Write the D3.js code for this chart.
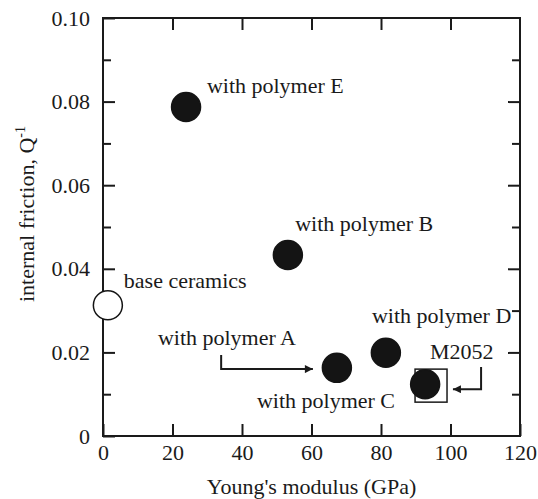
<!DOCTYPE html>
<html>
<head>
<meta charset="utf-8">
<script src="https://cdn.jsdelivr.net/npm/d3@7"></script>
<style>
	body { margin: 0; background: #fff; }
</style>
</head>
<body>
<svg id="chart" width="538" height="499"></svg>
<script>
// points: Young's modulus (GPa), internal friction Q^-1
const names = ["base ceramics", "with polymer E", "with polymer B", "with polymer A", "with polymer D", "with polymer C"];
const modulus = [1.4, 23.9, 53.2, 67.3, 81.4, 92.7];
const friction = [0.0313, 0.0787, 0.0433, 0.0163, 0.0199, 0.0124];
const filled = [false, true, true, true, true, true];

// where each label sits, in data units
const labelX = [6.0, 29.9, 55.3, 15.8, 77.4, 44.3];
const labelY = [0.0354, 0.0821, 0.0490, 0.0218, 0.0270, 0.0067];

const xTicks = [0, 20, 40, 60, 80, 100, 120];
const yTicks = [0, 0.02, 0.04, 0.06, 0.08, 0.10];
const yMinorTicks = [0.01, 0.03, 0.05, 0.07, 0.09];

// annotation: arrow to polymer A, the M2052 box and its arrow
const arrowA = [[34, 0.0194], [34, 0.0160], [60.4, 0.0160]];
const arrowM = [[108.8, 0.0165], [108.8, 0.0112], [100.7, 0.0112]];
const boxM = [89.8, 99.0, 0.0081, 0.0160];
const mLabel = ["M2052", 94.1, 0.0184];

const FONT = "'Liberation Serif', 'Times New Roman', Times, 'DejaVu Serif', serif";

let svg = d3.select("#chart"),
	LEFT = 103,
	RIGHT = 520,
	TOP = 18,
	BOTTOM = 436,
	xScale = d3.scaleLinear().domain([0, 120]).range([LEFT, RIGHT]),
	yScale = d3.scaleLinear().domain([0, 0.1]).range([BOTTOM, TOP]);

svg.append("defs").append("marker")
	.attr("id", "head")
	.attr("viewBox", "0 0 10 10")
	.attr("refX", 10)
	.attr("refY", 5)
	.attr("markerWidth", 11)
	.attr("markerHeight", 8)
	.attr("markerUnits", "userSpaceOnUse")
	.attr("orient", "auto")
	.append("path")
	.attr("d", "M0,0L10,5L0,10Z")
	.attr("fill", "#1a1a1a");

function styleAxis(g, labels) {
	g.attr("font-family", FONT).attr("font-size", 22);
	g.select(".domain").remove();
	g.selectAll(".tick line").attr("stroke", "#1a1a1a").attr("stroke-width", 2);
	if (!labels) g.selectAll(".tick text").remove();
	else g.selectAll(".tick text").attr("fill", "#1a1a1a");
}

function label(x, y, str) {
	return svg.append("text")
		.attr("x", x)
		.attr("y", y)
		.attr("font-family", FONT)
		.attr("font-size", 22)
		.attr("fill", "#1a1a1a")
		.text(str);
}

// bottom / top
svg.append("g")
	.attr("transform", "translate(0," + BOTTOM + ")")
	.call(d3.axisBottom(xScale).tickValues(xTicks).tickSizeInner(-12).tickSizeOuter(0).tickPadding(8))
	.call(styleAxis, true);

svg.append("g")
	.attr("transform", "translate(0," + TOP + ")")
	.call(d3.axisTop(xScale).tickValues(xTicks.slice(1, -1)).tickSizeInner(-12).tickSizeOuter(0))
	.call(styleAxis, false);

// left / right
svg.append("g")
	.attr("transform", "translate(" + LEFT + ",0)")
	.call(d3.axisLeft(yScale).tickValues(yTicks).tickSizeInner(-12).tickSizeOuter(0).tickPadding(13)
		.tickFormat(function (d) { return d === 0 ? "0" : d3.format(".2f")(d); }))
	.call(styleAxis, true);

svg.append("g")
	.attr("transform", "translate(" + LEFT + ",0)")
	.call(d3.axisLeft(yScale).tickValues(yMinorTicks).tickSizeInner(-8).tickSizeOuter(0))
	.call(styleAxis, false);

svg.append("g")
	.attr("transform", "translate(" + RIGHT + ",0)")
	.call(d3.axisRight(yScale).tickValues(yTicks.slice(1, -1)).tickSizeInner(-12).tickSizeOuter(0))
	.call(styleAxis, false);

svg.append("g")
	.attr("transform", "translate(" + RIGHT + ",0)")
	.call(d3.axisRight(yScale).tickValues(yMinorTicks).tickSizeInner(-8).tickSizeOuter(0))
	.call(styleAxis, false);

svg.append("rect")
	.attr("x", LEFT)
	.attr("y", TOP)
	.attr("width", RIGHT - LEFT)
	.attr("height", BOTTOM - TOP)
	.attr("fill", "none")
	.attr("stroke", "#1a1a1a")
	.attr("stroke-width", 2);

// axis titles
label((LEFT + RIGHT) / 2, 494, "Young's modulus (GPa)").attr("text-anchor", "middle");

let yTitle = label(0, 0, null).attr("transform", "translate(34,302) rotate(-90)");
yTitle.append("tspan").text("internal friction,  Q");
yTitle.append("tspan").attr("dy", -9).attr("font-size", 14).text("-1");

// annotations
let line = d3.line()
	.x(function (d) { return xScale(d[0]); })
	.y(function (d) { return yScale(d[1]); });

[arrowA, arrowM].forEach(function (a) {
	svg.append("path")
		.attr("d", line(a))
		.attr("fill", "none")
		.attr("stroke", "#1a1a1a")
		.attr("stroke-width", 2)
		.attr("marker-end", "url(#head)");
});

svg.append("rect")
	.attr("x", xScale(boxM[0]))
	.attr("y", yScale(boxM[3]))
	.attr("width", xScale(boxM[1]) - xScale(boxM[0]))
	.attr("height", yScale(boxM[2]) - yScale(boxM[3]))
	.attr("fill", "none")
	.attr("stroke", "#1a1a1a")
	.attr("stroke-width", 1.5);

label(xScale(mLabel[1]), yScale(mLabel[2]), mLabel[0]);

// points
for (let i = 0; i < names.length; i++) {
	svg.append("circle")
		.attr("cx", xScale(modulus[i]))
		.attr("cy", yScale(friction[i]))
		.attr("r", 14.5)
		.attr("fill", filled[i] ? "#141414" : "#fff")
		.attr("stroke", "#141414")
		.attr("stroke-width", 1.5);

	label(xScale(labelX[i]), yScale(labelY[i]), names[i]);
}
</script>
</body>
</html>
